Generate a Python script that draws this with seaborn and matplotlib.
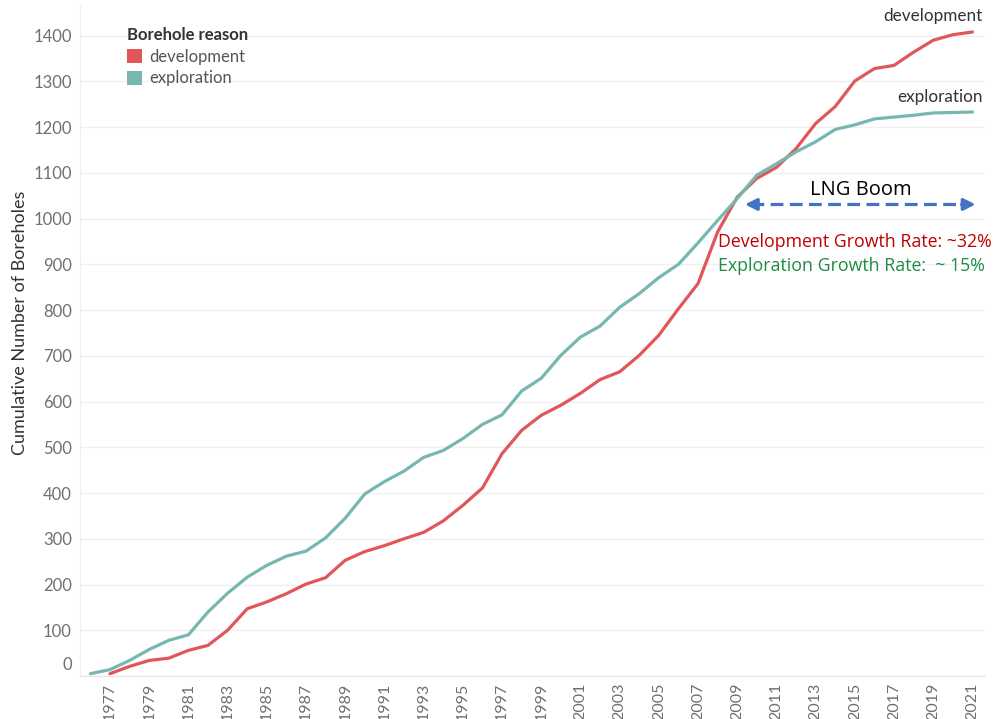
import numpy as np
import pandas as pd
import matplotlib
matplotlib.use("Agg")
import matplotlib.pyplot as plt
import matplotlib.transforms as mtransforms
from matplotlib.patches import Patch
from matplotlib.ticker import MultipleLocator
import seaborn as sns

# Datos
years_exploration = list(range(1976, 2022))
exploration = [5, 14, 34, 58, 78, 90, 140, 181, 216, 242,
               262, 273, 302, 345, 398, 425, 448, 478, 493, 519,
               550, 571, 623, 651, 701, 741, 765, 806, 836, 871,
               900, 947, 996, 1044, 1095, 1120, 1146, 1168, 1195, 1205,
               1218, 1222, 1226, 1231, 1232, 1233]

years_development = list(range(1977, 2022))
development = [5, 21, 34, 39, 56, 67, 100, 147, 162, 180,
               201, 215, 253, 272, 285, 300, 314, 339, 373, 411,
               486, 537, 570, 592, 618, 648, 665, 701, 745, 803,
               858, 971, 1047, 1088, 1112, 1153, 1208, 1245, 1301, 1328,
               1335, 1364, 1390, 1402, 1408]

reasons = ["development", "exploration"]
colors = {"development": "#e15759", "exploration": "#76b7b2"}
y_ticks = list(range(0, 1500, 100))

df = pd.concat([
    pd.DataFrame({"Year": years_development, "Boreholes": development,
                  "Borehole reason": "development"}),
    pd.DataFrame({"Year": years_exploration, "Boreholes": exploration,
                  "Borehole reason": "exploration"}),
])

sns.set_style("white")
plt.rcParams["font.family"] = ["Lato", "DejaVu Sans"]

fig = plt.figure(figsize=(9.95, 7.19), dpi=100)
ax = fig.add_axes([80 / 995, 1 - 676 / 719, 905 / 995, 671 / 719])

sns.lineplot(data=df, x="Year", y="Boreholes", hue="Borehole reason",
             hue_order=reasons, palette=colors, linewidth=2.3,
             legend=False, ax=ax)

ax.set_xlim(1975.47, 2021.64)
ax.set_ylim(0, 1467)

# Ejes y rejilla
ax.set_yticks(y_ticks)
ax.yaxis.grid(True, color="#f0f0f0", linewidth=1)
ax.xaxis.grid(False)
ax.xaxis.set_major_locator(MultipleLocator(2, offset=1))
ax.xaxis.set_minor_locator(MultipleLocator(1))
ax.tick_params(axis="x", which="both", length=3, color="#dddddd",
               labelsize=11.5, labelcolor="#707070", labelrotation=90, pad=2)
ax.tick_params(axis="y", length=0, labelsize=12, labelcolor="#707070", pad=6)
ax.set_xticklabels([str(int(t)) for t in ax.get_xticks()])

# El "0" de Tableau queda un poco más arriba
zero_label = ax.get_yticklabels()[0]
zero_label.set_transform(zero_label.get_transform() +
                         mtransforms.ScaledTranslation(0, 12 / 100, fig.dpi_scale_trans))

for side in ["top", "right"]:
    ax.spines[side].set_visible(False)
ax.spines["left"].set_color("#f0f0f0")
ax.spines["bottom"].set_color("#e6e6e6")

ax.set_xlabel("")
ax.set_ylabel("Cumulative Number of Boreholes", fontsize=13, color="#333333")
ax.yaxis.set_label_coords(-52 / 905, 0.526)

# Leyenda
handles = [Patch(facecolor=colors[r], edgecolor="none", label=r) for r in reasons]
leg = ax.legend(handles=handles, title="Borehole reason", loc="upper left",
                bbox_to_anchor=(0.035, 0.99), frameon=False, fontsize=12,
                title_fontsize=12, handlelength=0.9, handleheight=0.9,
                handletextpad=0.45, labelspacing=0.35, alignment="left")
leg.get_title().set_fontweight("bold")
leg.get_title().set_color("#333333")
for t in leg.get_texts():
    t.set_color("#555555")

# Etiquetas al final de las líneas
ax.text(2021.5, 1442, "development", ha="right", va="center", fontsize=12.3,
        color="#333333", clip_on=False)
ax.text(2021.5, 1265, "exploration", ha="right", va="center", fontsize=12.3,
        color="#333333", clip_on=False)

# LNG Boom
ax.text(2015.3, 1063, "LNG Boom", ha="center", va="center", fontsize=14.5,
        color="black", family=["Open Sans", "Lato"])
ax.plot([2009.7, 2020.8], [1031, 1031], color="#4472c4", linewidth=2.3,
        linestyle=(0, (4, 2)))
ax.annotate("", xy=(2009.25, 1031), xytext=(2010.2, 1031),
            arrowprops=dict(arrowstyle="-|>,head_length=0.7,head_width=0.35",
                            color="#4472c4", lw=2.3))
ax.annotate("", xy=(2021.3, 1031), xytext=(2020.3, 1031),
            arrowprops=dict(arrowstyle="-|>,head_length=0.7,head_width=0.35",
                            color="#4472c4", lw=2.3), annotation_clip=False)

ax.text(2008.0, 948, "Development Growth Rate: ~32%", ha="left", va="center",
        fontsize=12.8, color="#c00000", family=["Open Sans", "Lato"], clip_on=False)
ax.text(2008.0, 896, "Exploration Growth Rate:  ~ 15%", ha="left", va="center",
        fontsize=12.8, color="#1e8a45", family=["Open Sans", "Lato"], clip_on=False)

plt.savefig("out.png", dpi=100)
